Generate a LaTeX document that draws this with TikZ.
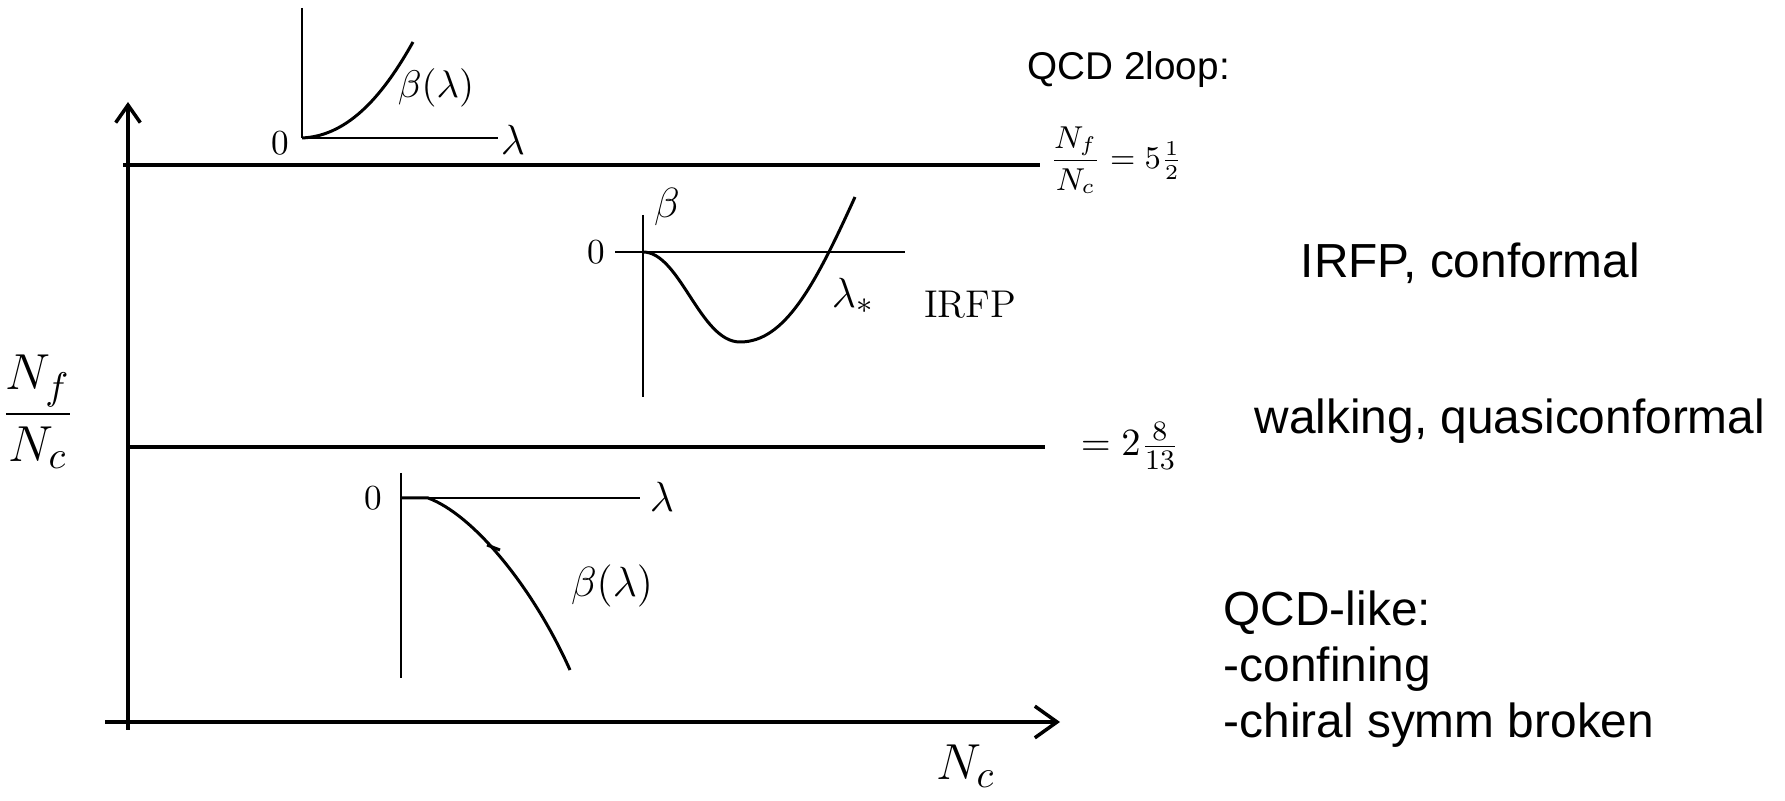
\documentclass[tikz,border=0pt]{standalone}
\usepackage{amsmath}
\usepackage{fontspec}
\setsansfont{Liberation Sans}
\usetikzlibrary{arrows.meta}
\tikzset{
  eje/.style={line width=1pt},
  ejefino/.style={line width=0.8pt},
  curva/.style={line width=0.85pt},
  mano/.style={inner sep=0pt,font=\fontsize{#1}{#1}\selectfont},
  mano/.default=12,
  nota/.style={inner sep=0pt,align=left,font=\sffamily\fontsize{#1}{16}\selectfont},
  nota/.default=13.6,
}

\begin{document}
\begin{tikzpicture}[x=0.01cm,y=-0.01cm]
  \useasboundingbox (0,0) rectangle (1785,801);
  % ejes principales (coordenadas en pixeles)
  \coordinate (ybot) at (128,730);
  \coordinate (ytop) at (128,102);
  \coordinate (xbeg) at (105,722);
  \coordinate (xend) at (1060,722);
  \draw[eje,-{Straight Barb[length=5pt,width=7pt]}] (ybot) -- (ytop);
  \draw[eje,-{Straight Barb[length=6.3pt,width=9pt]}] (xbeg) -- (xend);
  \coordinate (up1) at (123,165);
  \coordinate (up2) at (1040,165);
  \coordinate (lo1) at (128,447);
  \coordinate (lo2) at (1045,447);
  \draw[eje] (up1) -- (up2);
  \draw[eje] (lo1) -- (lo2);
  \node[mano=15] (ylab) at (38,412) {$\dfrac{N_f}{N_c}$};
  \node[mano=15] (xlab) at (966,766) {$N_c$};
  \node[mano=9] (frup) at (1116,160) {$\dfrac{N_f}{N_c}=5\tfrac{1}{2}$};
  \node[mano=11] (frlo) at (1130,446) {$=2\tfrac{8}{13}$};
  % ejes pequenos: #1 nombre, #2 #3 origen, #4 #5 lambda, #6 #7 beta
  \newcommand{\ejes}[7]{%
    \coordinate (#1) at (#2,#3);
    \draw[ejefino] (#2,#6) -- (#2,#7);
    \draw[ejefino] (#4,#3) -- (#5,#3);}
  \ejes{oa}{302}{138}{302}{498}{8}{138}
  \ejes{ob}{643}{252}{615}{905}{215}{397}
  \ejes{oc}{401}{498}{401}{640}{473}{678}
  % beta > 0
  \draw[curva] (oa) .. controls (350,136) and (385,92) .. (413,42);
  \node[mano=10] (za) at (280,143) {$0$};
  \node[mano=13] (la) at (513,140) {$\lambda$};
  \node[mano=11] (ba) at (436,88) {$\beta(\lambda)$};
  % punto fijo
  \draw[curva] (ob) .. controls (680,252) and (700,342) .. (740,342)
    .. controls (785,342) and (815,285) .. (855,197);
  \node[mano=10] (zb) at (596,252) {$0$};
  \node[mano=13] (bb) at (667,207) {$\beta$};
  \node[mano=13] (lb) at (853,296) {$\lambda_*$};
  \node[mano=11] (irfp) at (970,305) {IRFP};
  % beta < 0
  \draw[curva] (oc) -- (428,498) .. controls (472,514) and (532,585) .. (570,670);
  \draw[curva] (487,545) -- (500,550);
  \node[mano=10] (zc) at (373,498) {$0$};
  \node[mano=13] (lc) at (662,497) {$\lambda$};
  \node[mano=13] (bc) at (612,586) {$\beta(\lambda)$};
  % textos a la derecha
  \node[nota=11,anchor=base west] (loop) at (1027,80) {QCD 2loop:};
  \node[nota,anchor=base west] (conf) at (1300,278) {IRFP, conformal};
  \node[nota,anchor=base west] (walk) at (1254,434) {walking, quasiconformal};
  \node[nota,anchor=north west] (qcd) at (1223,590) {QCD-like:\\-confining\\-chiral symm broken};
\end{tikzpicture}
\end{document}
